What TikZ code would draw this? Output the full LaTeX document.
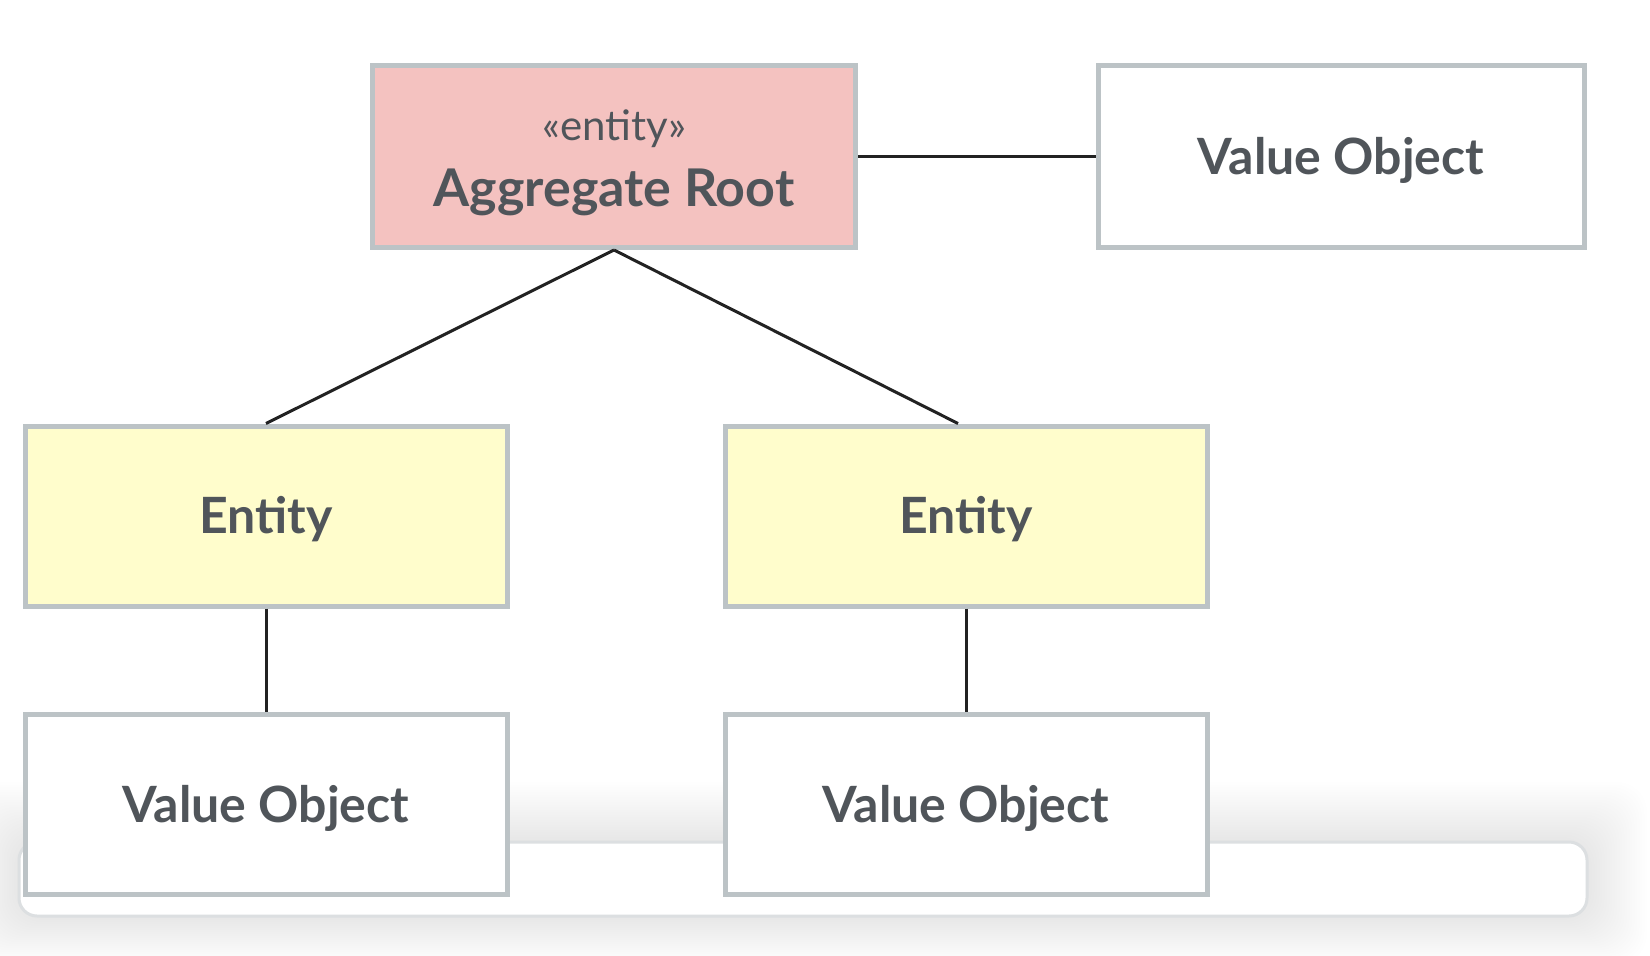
\documentclass[tikz,border=0pt]{standalone}
\usepackage{fontspec}
\setmainfont{Lato}
\definecolor{bordergray}{HTML}{BCC3C6}
\definecolor{pinkfill}{HTML}{F4C2C0}
\definecolor{yellowfill}{HTML}{FFFDCC}
\definecolor{textgray}{HTML}{50555A}
\definecolor{linedark}{HTML}{222222}
\definecolor{cardline}{HTML}{DCDFE1}
\tikzset{
  box/.style={draw=bordergray, line width=5pt, inner sep=0pt,
    minimum width=482pt, minimum height=180pt},
  boxtext/.style={text=textgray, font=\fontsize{50}{56}\selectfont\bfseries},
  rootbox/.style={box, fill=pinkfill},
  entbox/.style={box, fill=yellowfill},
  vobox/.style={box, fill=white},
  conn/.style={draw=linedark, line width=3pt},
}
\begin{document}
\begin{tikzpicture}[x=1pt,y=-1pt]
\useasboundingbox (0,0) rectangle (1650,956);
\fill[white] (0,0) rectangle (1650,956);
% soft shadow of the card
\foreach \i in {1,...,24}{
  \fill[black, opacity=0.0028, rounded corners=30pt]
    (19-\i*2.5, 842-\i*2.5) rectangle (1587+\i*2.5, 916+\i*2);
}
\draw[cardline, fill=white, line width=3pt, rounded corners=18pt]
  (19,842) rectangle (1587,916);
% nodes
\node[rootbox, minimum width=483pt, minimum height=182pt] (root) at (614,156.5) {};
\node[text=textgray, font=\fontsize{42}{46}\selectfont] (stereo) at (614,129) {«entity»};
\node[boxtext, font=\fontsize{52}{58}\selectfont\bfseries] (rootlabel) at (614,192) {Aggregate Root};
\node[vobox, minimum width=486pt, minimum height=182pt] (vo0) at (1341,156.5) {};
\node[boxtext] (vo0l) at (1341,160) {Value Object};
\node[entbox] (e1) at (266,516) {};
\node[boxtext] (e1l) at (266,519) {Entity};
\node[entbox] (e2) at (966,516) {};
\node[boxtext] (e2l) at (966,519) {Entity};
\node[vobox] (vo1) at (266,804.5) {};
\node[boxtext] (vo1l) at (266,808) {Value Object};
\node[vobox] (vo2) at (966,804.5) {};
\node[boxtext] (vo2l) at (966,808) {Value Object};
% connectors
\draw[conn] (root.east) -- (vo0.west);
\draw[conn] (root.south) -- (e1.north);
\draw[conn] (root.south) -- ([xshift=-8pt]e2.north);
\draw[conn] (e1.south) -- (vo1.north);
\draw[conn] (e2.south) -- (vo2.north);
\end{tikzpicture}
\end{document}
